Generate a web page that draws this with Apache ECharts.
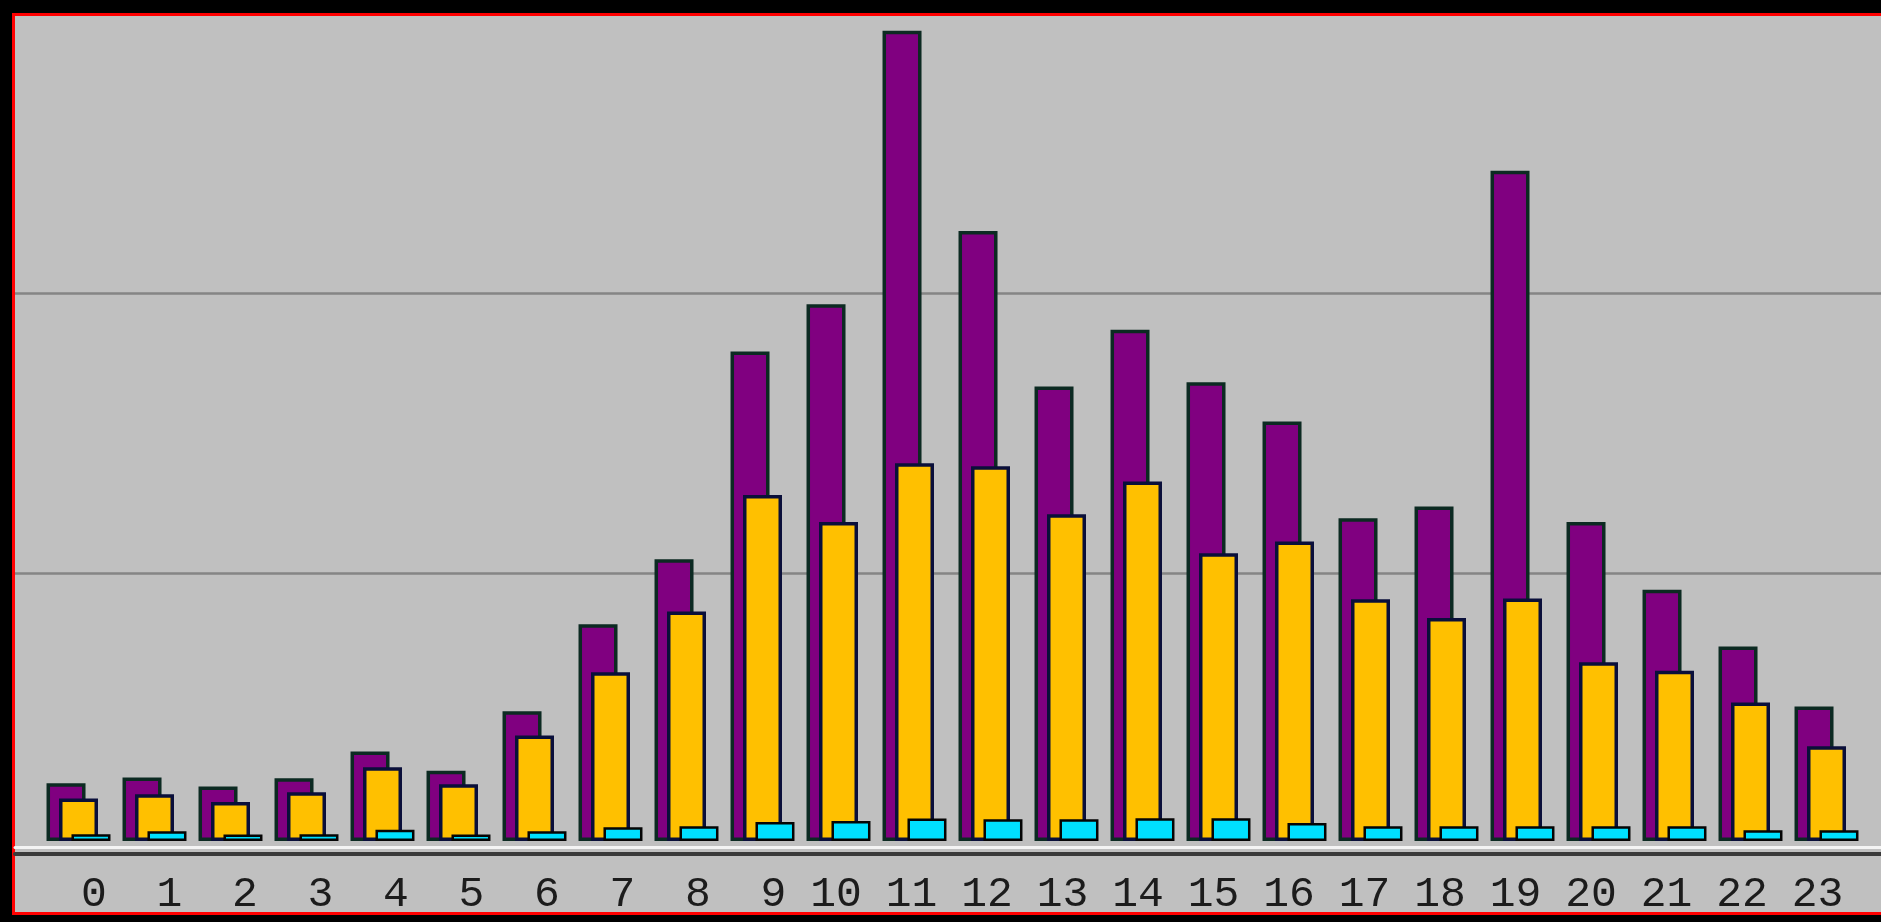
<!DOCTYPE html>
<html>
<head>
<meta charset="utf-8">
<script src="https://cdn.jsdelivr.net/npm/echarts@6/dist/echarts.min.js"></script>
<style>
  html, body { margin: 0; padding: 0; background: #000; overflow: hidden; }
  #panel { position: absolute; left: 12px; top: 13px; width: 1900px; height: 896px; border: 3px solid #ff0000; background: #c0c0c0; }
  #chart { position: absolute; left: 0; top: 0; width: 1881px; height: 922px; }
</style>
</head>
<body>
<div id="panel"></div>
<div id="chart"></div>
<script>
// Hours of the day (category labels)
const hours = ['0','1','2','3','4','5','6','7','8','9','10','11','12','13','14','15','16','17','18','19','20','21','22','23'];

// Series values (arbitrary units)
const purpleValues = [20.6, 22.7, 19.5, 22.4, 32.0, 25.1, 46.3, 77.4, 100.6, 174.8, 191.7, 289.4, 217.9, 162.3, 182.6, 163.8, 149.8, 115.3, 119.5, 239.4, 113.9, 89.7, 69.5, 48.0];
const yellowValues = [15.2, 16.7, 13.9, 17.4, 26.3, 20.3, 37.7, 60.3, 82.0, 123.6, 113.9, 134.9, 133.8, 116.7, 128.4, 102.8, 107.0, 86.3, 79.6, 86.6, 63.8, 60.8, 49.5, 33.8];
const cyanValues = [2.4, 3.5, 2.3, 2.4, 4.0, 2.3, 3.5, 4.9, 5.3, 6.8, 7.1, 8.0, 7.8, 7.8, 8.1, 8.1, 6.4, 5.3, 5.3, 5.3, 5.3, 5.3, 3.8, 3.8];

// Value axis range / gridline step
const yMin = 0, yMax = 300, yStep = 100;

const chart = echarts.init(document.getElementById('chart'), null, { renderer: 'canvas' });

const option = {
  backgroundColor: 'transparent',
  animation: false,
  grid: [
    { left: 40.5, width: 1824, top: 1, bottom: 81 },     // bars (shifted back plane)
    { left: 15, right: 0, top: 13.5, bottom: 68.5 },     // gridlines + axis line
    { left: 69, width: 1824, top: 13.5, bottom: 68.5 },  // category labels
    { left: 15, right: 0, top: 13.5, bottom: 74.5 }      // highlight line above axis
  ],
  xAxis: [
    { gridIndex: 0, type: 'category', data: hours, show: false },
    { gridIndex: 1, type: 'value', min: 0, max: 1, position: 'bottom',
      axisLine: { show: true, onZero: false, lineStyle: { color: '#3a3a3a', width: 4 } },
      axisTick: { show: false }, axisLabel: { show: false }, splitLine: { show: false } },
    { gridIndex: 3, type: 'value', min: 0, max: 1, position: 'bottom',
      axisLine: { show: true, onZero: false, lineStyle: { color: '#f4f4f4', width: 3 } },
      axisTick: { show: false }, axisLabel: { show: false }, splitLine: { show: false } },
    { gridIndex: 2, type: 'category', data: hours, position: 'bottom',
      axisLine: { show: false }, axisTick: { show: false }, splitLine: { show: false },
      axisLabel: { show: true, interval: 0, align: 'right', margin: 20,
        fontFamily: 'Liberation Mono', fontSize: 43, color: '#1c1c1c' } }
  ],
  yAxis: [
    { gridIndex: 0, type: 'value', min: yMin, max: yMax, show: false },
    { gridIndex: 1, type: 'value', min: yMin, max: yMax, interval: yStep,
      axisLine: { show: false }, axisTick: { show: false }, axisLabel: { show: false },
      splitLine: { show: true, showMinLine: false, showMaxLine: false, lineStyle: { color: '#858585', width: 2.5 } } },
    { gridIndex: 2, type: 'value', show: false },
    { gridIndex: 3, type: 'value', show: false }
  ],
  series: [
    { type: 'bar', xAxisIndex: 0, yAxisIndex: 0, data: purpleValues,
      barWidth: 39, barGap: '-68%',
      itemStyle: { color: '#800080', borderColor: '#0c2a22', borderWidth: 3.5 } },
    { type: 'bar', xAxisIndex: 0, yAxisIndex: 0, data: yellowValues,
      barWidth: 39, barGap: '-68%',
      itemStyle: { color: '#ffc000', borderColor: '#0a0f3a', borderWidth: 3.5 } },
    { type: 'bar', xAxisIndex: 0, yAxisIndex: 0, data: cyanValues,
      barWidth: 39, barGap: '-68%',
      itemStyle: { color: '#00e0ff', borderColor: '#050505', borderWidth: 2.5 } }
  ]
};

chart.setOption(option);
</script>
</body>
</html>
